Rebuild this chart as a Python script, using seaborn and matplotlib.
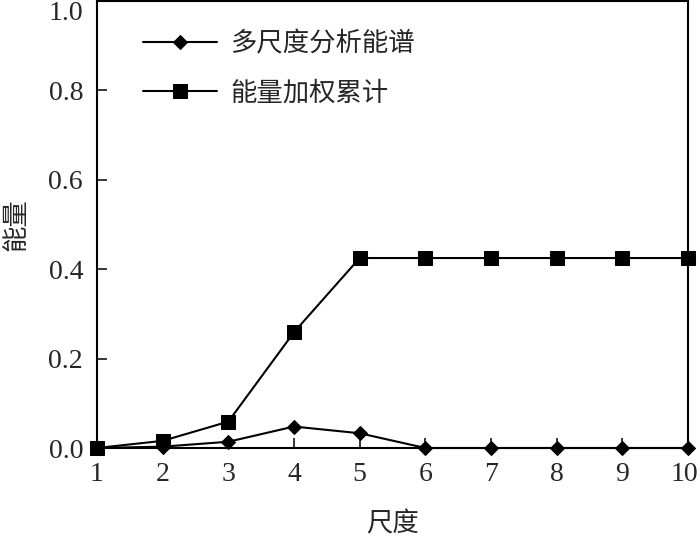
import matplotlib
matplotlib.use("Agg")
import matplotlib.pyplot as plt
import matplotlib.transforms as mtransforms
import seaborn as sns
import pandas as pd

scales = [1, 2, 3, 4, 5, 6, 7, 8, 9, 10]
spectrum = [0.0, 0.003, 0.014, 0.048, 0.033, 0.0, 0.0, 0.0, 0.0, 0.0]
cumulative = [0.0, 0.016, 0.059, 0.259, 0.425, 0.425, 0.425, 0.425, 0.425, 0.425]
label_spec = "多尺度分析能谱"
label_cum = "能量加权累计"
xticks = [1, 2, 3, 4, 5, 6, 7, 8, 9, 10]
yticks = [0.0, 0.2, 0.4, 0.6, 0.8, 1.0]

sns.set_style("ticks")
plt.rcParams['font.family'] = ['Liberation Serif', 'Noto Sans CJK SC', 'DejaVu Sans']

df = pd.DataFrame({"x": scales, "spec": spectrum, "cum": cumulative})

fig = plt.figure(figsize=(7.0, 5.39), dpi=100)
ax = fig.add_axes([97/700, 1 - 448/539, 591/700, 447/539])

sns.lineplot(data=df, x="x", y="spec", ax=ax, color="black", lw=1.5,
             marker="D", markersize=7.5, markeredgecolor="black",
             label=label_spec, clip_on=False, zorder=3)
sns.lineplot(data=df, x="x", y="cum", ax=ax, color="black", lw=1.5,
             marker="s", markersize=10, markeredgecolor="black",
             label=label_cum, clip_on=False, zorder=4)

ax.set_xlim(1, 10)
ax.set_ylim(0, 1.0)
ax.set_xticks(xticks)
ax.set_yticks(yticks)
ax.set_xticklabels([str(v) for v in xticks])
ax.set_yticklabels([f"{v:.1f}" for v in yticks])
ax.tick_params(direction="in", length=7, width=1.3, labelsize=20, pad=10,
               top=False, right=False)
for lab in ax.get_yticklabels():
    if lab.get_text() == "1.0":
        lab.set_va("top")
for s in ax.spines.values():
    s.set_visible(True)
    s.set_linewidth(1.5)
    s.set_color("black")

ax.set_xlabel("尺度", fontsize=19, family=['Noto Sans CJK SC'], labelpad=17)
ax.set_ylabel("能量", fontsize=19, family=['Noto Sans CJK SC'], labelpad=14)

leg = ax.legend(loc="upper left", bbox_to_anchor=(0.078, 0.935), frameon=False,
                prop={'family': ['Noto Sans CJK SC'], 'size': 19},
                handlelength=2.8, handletextpad=0.5, labelspacing=0.85,
                borderpad=0, borderaxespad=0)

# nudge the last x tick label ("10") slightly left so it stays inside the canvas
last = ax.xaxis.get_major_ticks()[-1].label1
last.set_transform(last.get_transform() +
                   mtransforms.ScaledTranslation(-4/100, 0, fig.dpi_scale_trans))

fig.savefig("out.png", dpi=100)
